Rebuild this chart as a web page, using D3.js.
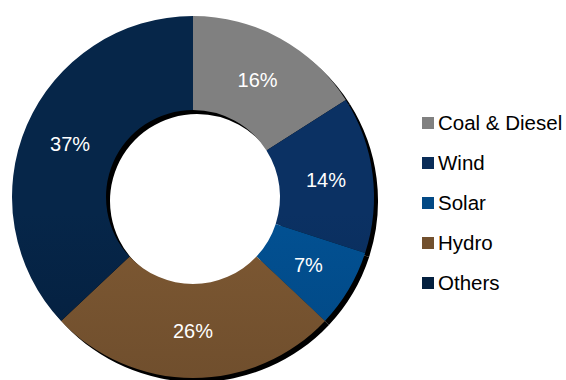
<!DOCTYPE html>
<html><head><meta charset="utf-8">
<script src="https://cdn.jsdelivr.net/npm/d3@7"></script>
<style>body{margin:0;background:#fff}svg{display:block}</style>
</head><body>
<script>
const categories = ["Coal & Diesel", "Wind", "Solar", "Hydro", "Others"];
const values = [16, 14, 7, 26, 37];
const labels = ["16%", "14%", "7%", "26%", "37%"];
const colorsTop = ["#808080", "#0b3163", "#025193", "#7e5933", "#062649"];
const colorsBottom = ["#808080", "#052448", "#013c70", "#5f4226", "#021630"];

const W = 566, H = 380;
const cx = 193, cy = 197, R = 181, r = 87;
const svg = d3.select("body").append("svg").attr("width", W).attr("height", H);
const defs = svg.append("defs");
categories.forEach((c, i) => {
  const g = defs.append("linearGradient").attr("id", "g" + i)
    .attr("gradientUnits", "userSpaceOnUse")
    .attr("x1", 0).attr("x2", 0).attr("y1", cy - R).attr("y2", cy + R);
  g.append("stop").attr("offset", "0%").attr("stop-color", colorsTop[i]);
  g.append("stop").attr("offset", "100%").attr("stop-color", colorsBottom[i]);
});

const pie = d3.pie().sort(null).value(d => d)(values);
const arc = d3.arc().innerRadius(r).outerRadius(R);
const labelArc = d3.arc().innerRadius((r + R) / 2).outerRadius((r + R) / 2);

// shadow
svg.append("g").attr("transform", `translate(${cx + 4},${cy + 4})`)
  .selectAll("path").data(pie).join("path")
  .attr("d", arc).attr("fill", "#000");

const g = svg.append("g").attr("transform", `translate(${cx},${cy})`);
g.selectAll("path.s").data(pie).join("path").attr("class", "s")
  .attr("d", arc).attr("fill", (d, i) => `url(#g${i})`);

g.selectAll("text").data(pie).join("text")
  .attr("transform", d => `translate(${labelArc.centroid(d)})`)
  .attr("text-anchor", "middle").attr("dy", "0.36em")
  .attr("fill", "#fff").style("font-family", "'Liberation Sans', Arial, sans-serif")
  .style("font-size", "20px")
  .text((d, i) => labels[i]);

// legend
const leg = svg.append("g").attr("transform", "translate(422,123)");
const item = leg.selectAll("g").data(categories).join("g")
  .attr("transform", (d, i) => `translate(0,${i * 40})`);
item.append("rect").attr("x", 0).attr("y", -6).attr("width", 12).attr("height", 12)
  .attr("fill", (d, i) => colorsTop[i] === "#808080" ? "#808080" : d3.interpolateRgb(colorsTop[i], colorsBottom[i])(0.4));
item.append("text").attr("x", 16).attr("dy", "0.36em")
  .style("font-family", "'Liberation Sans', Arial, sans-serif")
  .style("font-size", "20.5px").attr("fill", "#000")
  .text(d => d);
</script>
</body></html>
